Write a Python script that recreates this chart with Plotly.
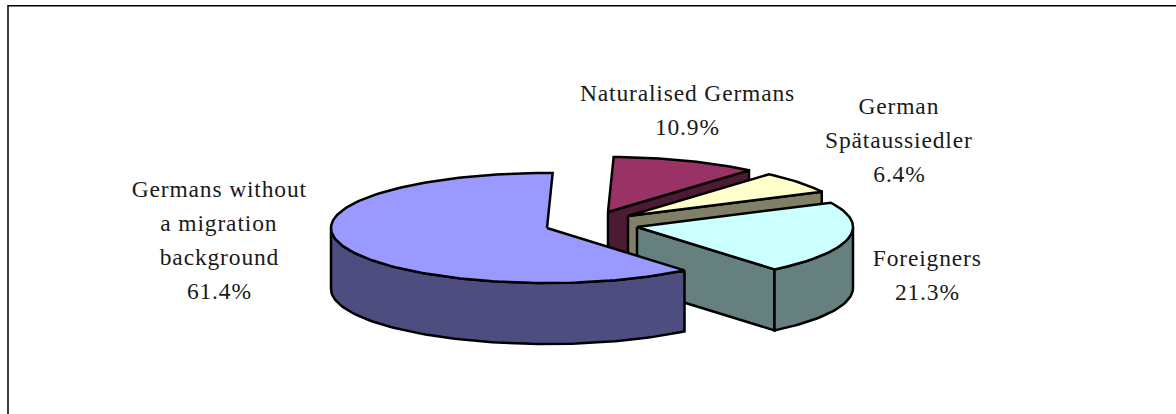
import math
import plotly.graph_objects as go

# data, clockwise from twelve o'clock
categories = ["Naturalised Germans", "German Spätaussiedler", "Foreigners", "Germans without a migration background"]
values = [10.9, 6.4, 21.3, 61.4]
label_lines = [["Naturalised Germans"], ["German", "Spätaussiedler"], ["Foreigners"], ["Germans without", "a migration", "background"]]

# styles
top_colors = ["#993366", "#FFFFCC", "#CCFFFF", "#9999FF"]
side_colors = ["#4D1A33", "#808066", "#668080", "#4D4D80"]

# pie projection (pixels)
RX, RY, DEPTH = 216, 55, 61
ROTATION = 1.5
apexes = [(608, 212), (628, 216), (637, 227), (547, 228)]
label_pos = [(687, 110), (899, 140), (927, 275), (219, 240)]
LINE_STEP = 33.7
FONT = dict(family="Liberation Serif", size=23.5, color="#1a1a1a")
W, H = 1176, 414


def pt(apex, t, dz=0):
    r = math.radians(t)
    return apex[0] + RX * math.sin(r), apex[1] - RY * math.cos(r) + dz


def arc(apex, t0, t1, dz=0):
    n = max(2, int(abs(t1 - t0) / 1.5))
    return [pt(apex, t0 + (t1 - t0) * i / n, dz) for i in range(n + 1)]


fig = go.Figure()


def poly(points, fill):
    xs = [p[0] for p in points] + [points[0][0]]
    ys = [p[1] for p in points] + [points[0][1]]
    fig.add_trace(go.Scatter(x=xs, y=ys, mode="lines", fill="toself", fillcolor=fill,
                             line=dict(color="black", width=2.5), hoverinfo="skip", showlegend=False))


cum = 0.0
for i, v in enumerate(values):
    t0 = ROTATION + cum * 3.6
    t1 = ROTATION + (cum + v) * 3.6
    cum += v
    a = apexes[i]
    a_low = (a[0], a[1] + DEPTH)
    # cut face on the clockwise end (not visible for the wrapped-round large slice)
    if t1 < 180:
        end = pt(a, t1)
        poly([a, end, pt(a, t1, DEPTH), a_low], side_colors[i])
    # outer wall: only the near half of the rim is visible
    w0, w1 = max(t0, 90), min(t1, 270)
    if w1 > w0:
        poly(arc(a, w0, w1) + arc(a, w1, w0, DEPTH), side_colors[i])
    # top face
    poly([a] + arc(a, t0, t1), top_colors[i])

annotations = []
for lines, v, (x, y) in zip(label_lines, values, label_pos):
    rows = lines + [f"{v}%"]
    for k, row in enumerate(rows):
        annotations.append(dict(x=x, y=y + (k - (len(rows) - 1) / 2) * LINE_STEP, xref="x", yref="y",
                                showarrow=False, align="center", text=row, font=FONT))

fig.update_layout(
    width=W, height=H, margin=dict(l=0, r=0, t=0, b=0), autosize=False,
    paper_bgcolor="white", plot_bgcolor="white", showlegend=False,
    xaxis=dict(range=[0, W], visible=False, fixedrange=True),
    yaxis=dict(range=[H, 0], visible=False, fixedrange=True),
    annotations=annotations,
    shapes=[
        dict(type="line", xref="x", yref="y", x0=8, x1=W, y0=5.7, y1=5.7, line=dict(color="black", width=1.5)),
        dict(type="line", xref="x", yref="y", x0=8, x1=8, y0=5, y1=H, line=dict(color="black", width=1.5)),
    ],
)
post = """
document.body.style.margin = '0';
document.documentElement.style.overflow = 'hidden';
var s = document.createElement('style');
s.textContent = '.annotation-text{letter-spacing:0.85px}';
document.head.appendChild(s);
"""
fig.write_html("out.html", config=dict(displayModeBar=False), post_script=post)
